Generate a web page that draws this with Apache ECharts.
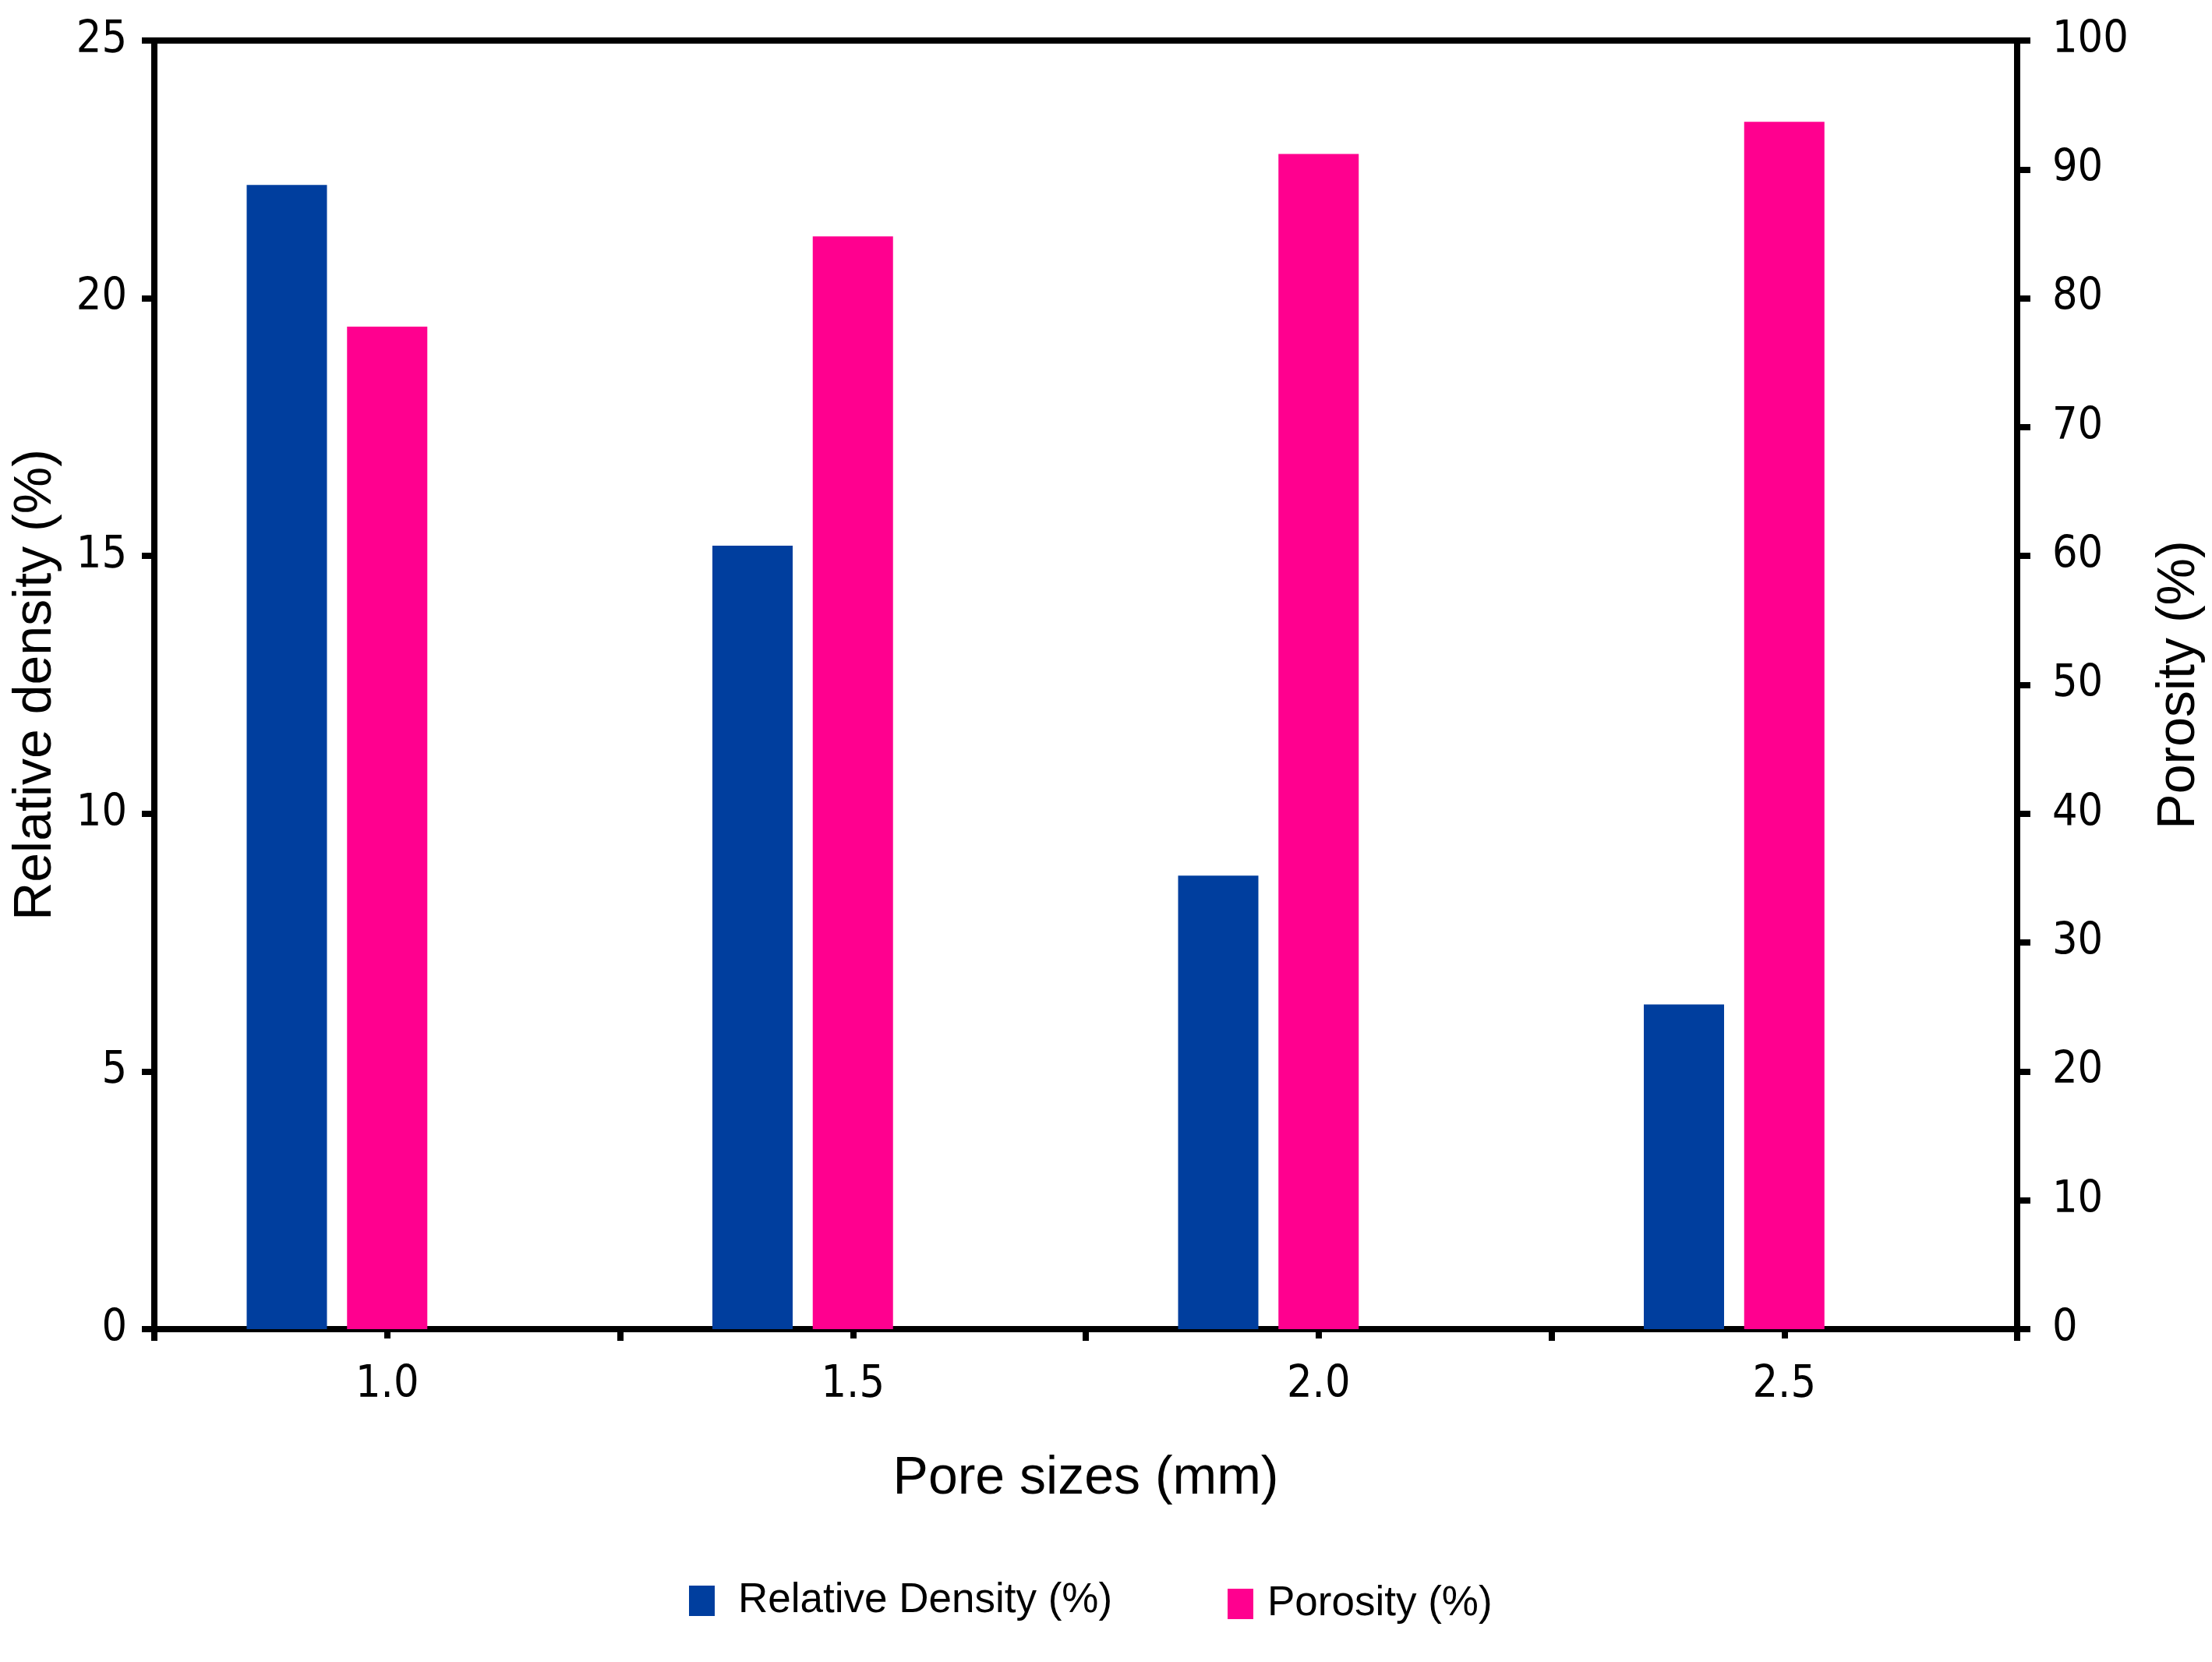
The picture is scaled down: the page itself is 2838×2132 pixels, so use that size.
<!DOCTYPE html>
<html>
<head>
<meta charset="utf-8">
<script src="https://cdn.jsdelivr.net/npm/echarts@6/dist/echarts.min.js"></script>
<style>
html,body{margin:0;padding:0;background:#fff;}
#chart{width:2838px;height:2132px;}
</style>
</head>
<body>
<div id="chart"></div>
<script>
const categories = ['1.0', '1.5', '2.0', '2.5'];
const relativeDensity = [22.2, 15.2, 8.8, 6.3];
const porosity = [77.8, 84.8, 91.2, 93.7];
const leftTicks = {min: 0, max: 25, interval: 5};
const rightTicks = {min: 0, max: 100, interval: 10};

const narrow = "'Liberation Sans Narrow', 'Arial Narrow', 'DejaVu Sans Condensed', sans-serif";
const sans = "'Liberation Sans', Arial, sans-serif";
const AX = 8;

const chart = echarts.init(document.getElementById('chart'), null, {renderer: 'canvas'});
chart.setOption({
  backgroundColor: '#ffffff',
  animation: false,
  grid: {left: 198, right: 250, top: 52, bottom: 427, containLabel: false},
  legend: [
    {
      data: ['Relative Density (%)'],
      left: 879, top: 2022,
      itemWidth: 33, itemHeight: 39, icon: 'rect',
      textStyle: {fontFamily: sans, fontSize: 53, color: '#000', padding: [0, 0, 0, 25]}
    },
    {
      data: ['Porosity (%)'],
      left: 1570, top: 2026,
      itemWidth: 33, itemHeight: 39, icon: 'rect',
      textStyle: {fontFamily: sans, fontSize: 53, color: '#000', padding: [0, 0, 0, 13]}
    }
  ],
  xAxis: [
    {
      type: 'category',
      data: categories,
      position: 'bottom',
      name: 'Pore sizes (mm)',
      nameLocation: 'middle',
      nameGap: 158,
      nameTextStyle: {fontFamily: sans, fontSize: 68, color: '#000'},
      axisLine: {show: true, lineStyle: {color: '#000', width: AX}},
      axisTick: {show: true, alignWithLabel: false, length: 15, lineStyle: {color: '#000', width: AX}},
      axisLabel: {show: true, margin: 44, fontFamily: narrow, fontSize: 57, color: '#000'},
      splitLine: {show: false}
    },
    {
      type: 'category',
      data: categories,
      position: 'bottom',
      axisLine: {show: false},
      axisTick: {show: true, alignWithLabel: true, length: 12, lineStyle: {color: '#000', width: AX}},
      axisLabel: {show: false},
      splitLine: {show: false}
    },
    {
      type: 'category',
      data: categories,
      position: 'top',
      axisLine: {show: true, lineStyle: {color: '#000', width: AX}},
      axisTick: {show: false},
      axisLabel: {show: false},
      splitLine: {show: false}
    }
  ],
  yAxis: [
    {
      type: 'value',
      position: 'left',
      min: leftTicks.min, max: leftTicks.max, interval: leftTicks.interval,
      name: 'Relative density (%)',
      nameLocation: 'middle',
      nameRotate: 90,
      nameGap: 118,
      nameTextStyle: {fontFamily: sans, fontSize: 68, color: '#000'},
      axisLine: {show: true, lineStyle: {color: '#000', width: AX}},
      axisTick: {show: true, inside: false, length: 16, lineStyle: {color: '#000', width: AX}},
      axisLabel: {show: true, margin: 35, fontFamily: narrow, fontSize: 57, color: '#000'},
      splitLine: {show: false}
    },
    {
      type: 'value',
      position: 'right',
      min: rightTicks.min, max: rightTicks.max, interval: rightTicks.interval,
      name: 'Porosity (%)',
      nameLocation: 'middle',
      nameRotate: 90,
      nameGap: 174,
      nameTextStyle: {fontFamily: sans, fontSize: 68, color: '#000'},
      axisLine: {show: true, lineStyle: {color: '#000', width: AX}},
      axisTick: {show: true, inside: false, length: 17, lineStyle: {color: '#000', width: AX}},
      axisLabel: {show: true, margin: 45, fontFamily: narrow, fontSize: 57, color: '#000'},
      splitLine: {show: false}
    }
  ],
  series: [
    {
      name: 'Relative Density (%)',
      type: 'bar',
      xAxisIndex: 0, yAxisIndex: 0,
      data: relativeDensity,
      barWidth: 103,
      barGap: '25%',
      itemStyle: {color: '#003E9E'}
    },
    {
      name: 'Porosity (%)',
      type: 'bar',
      xAxisIndex: 0, yAxisIndex: 1,
      data: porosity,
      barWidth: 103,
      barGap: '25%',
      itemStyle: {color: '#FF008F'}
    },
    {
      name: 'spacer',
      type: 'bar',
      xAxisIndex: 0, yAxisIndex: 1,
      data: ['-', '-', '-', '-'],
      barWidth: 103,
      barGap: '25%',
      itemStyle: {color: 'rgba(0,0,0,0)'},
      silent: true
    }
  ]
});
</script>
</body>
</html>
